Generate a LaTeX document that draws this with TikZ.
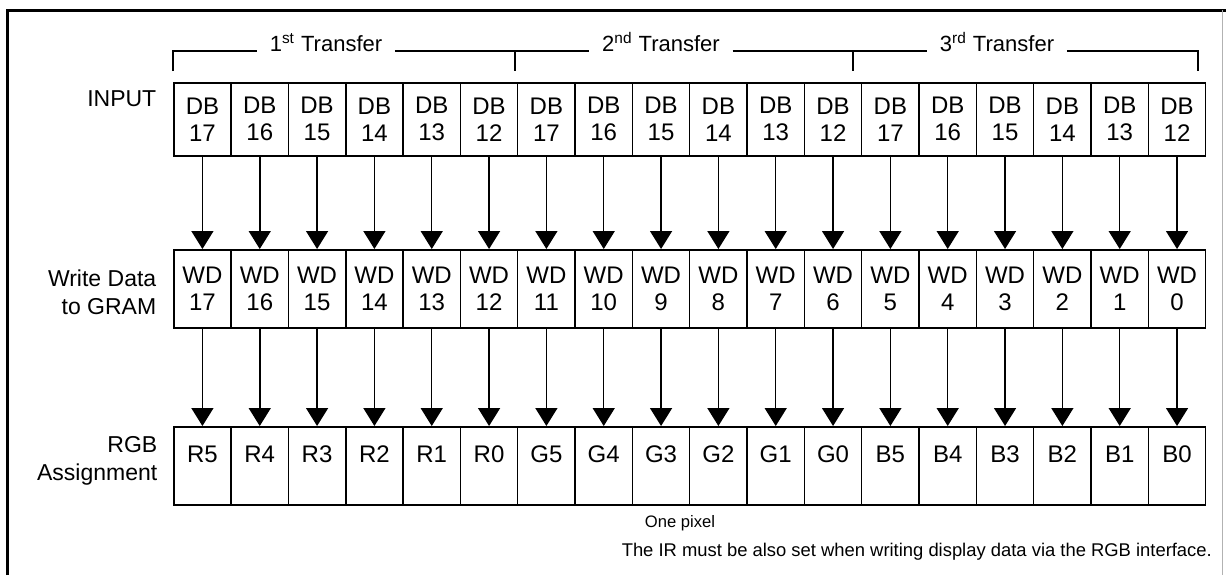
\documentclass[tikz,border=0pt]{standalone}
\usepackage{fontspec}
\setmainfont{Liberation Sans}
\usetikzlibrary{arrows.meta}

\begin{document}
\begin{tikzpicture}[x=0.5pt, y=-0.5pt, line width=0.75pt, >={Triangle[width=11pt,length=9pt]},
  cell/.style={draw, anchor=north west, minimum width=28.67pt, inner sep=0pt,
    align=center, font=\fontsize{12}{13.5}\selectfont},
  rowlabel/.style={anchor=east, align=right, inner sep=0pt, font=\fontsize{11.5}{14}\selectfont},
  transfer/.style={anchor=base, inner xsep=6pt, inner ysep=0pt, font=\fontsize{11}{13}\selectfont}]
\useasboundingbox (0,0) rectangle (1226,575);

% draw the frame
\draw[line width=1.5pt] (7,575) -- (7,10) -- (1226,10);
\draw[gray!60, line width=0.5pt] (1222,10) -- (1222,575);

% draw the row labels
\node[rowlabel] (lbinput) at (157,99) {INPUT};
\node[rowlabel] (lbwrite) at (157,292) {Write Data\\to GRAM};
\node[rowlabel] (lbrgb) at (158,461) {RGB\\Assignment};

% draw the transfer brackets
\node[transfer] (t1) at (326,51) {1\textsuperscript{st} Transfer};
\node[transfer] (t2) at (661,51) {2\textsuperscript{nd} Transfer};
\node[transfer] (t3) at (997,51) {3\textsuperscript{rd} Transfer};
\draw (173,71) -- (173,51) -- (t1.base west);
\draw (t1.base east) -- (t2.base west);
\draw (t2.base east) -- (t3.base west);
\draw (t3.base east) -- (1198,51) -- (1198,71);
\draw (515,51) -- (515,71);
\draw (853,51) -- (853,71);

% the input and write data cells
\foreach \i in {1,...,18} {
  \pgfmathtruncatemacro\dbnum{17-mod(\i-1,6)}
  \pgfmathtruncatemacro\wdnum{18-\i}
  \node[cell, minimum height=36.5pt] (in\i) at ({173+(\i-1)*57.33},82) {DB\\\dbnum};
  \node[cell, minimum height=39pt] (wd\i) at ({173+(\i-1)*57.33},249) {WD\\\wdnum};
  % arrows from input to write data
  \draw[->] (in\i) -- (wd\i);
}

% the rgb cells, text sits high in the box
\foreach \i/\c in {
1/R5, 2/R4, 3/R3, 4/R2, 5/R1, 6/R0,
7/G5, 8/G4, 9/G3, 10/G2, 11/G1, 12/G0,
13/B5, 14/B4, 15/B3, 16/B2, 17/B1, 18/B0} {
  \node[cell, minimum height=39pt] (rgb\i) at ({173+(\i-1)*57.33},426) {};
  \node[font=\fontsize{12}{13.5}\selectfont, inner sep=0pt] (rt\i) at ([yshift=-14pt]rgb\i.north) {\c};
  \draw[->] (wd\i) -- (rgb\i);
}

% notes under the picture
\node[font=\fontsize{8.3}{10}\selectfont] (pixel) at (680,523) {One pixel};
\node[anchor=west, inner sep=0pt, font=\fontsize{9.2}{10}\selectfont] (note) at (621,552)
  {The IR must be also set when writing display data via the RGB interface.};
\end{tikzpicture}
\end{document}
